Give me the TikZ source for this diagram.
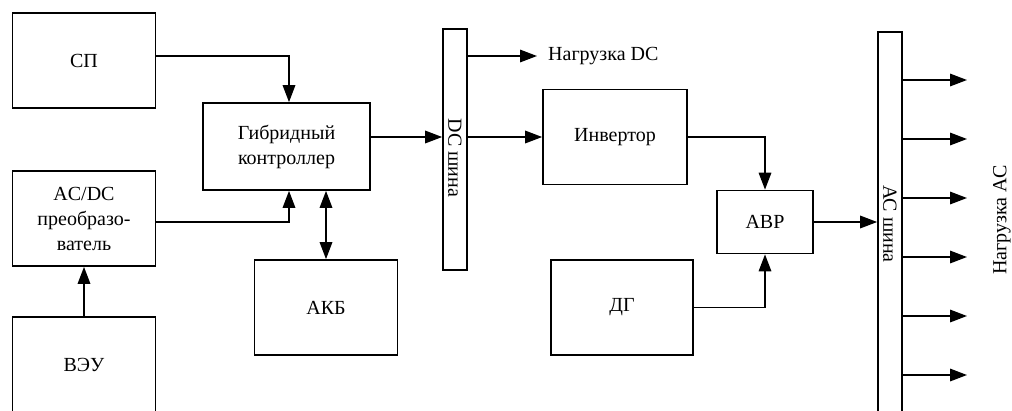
\documentclass[tikz,border=0pt]{standalone}
\usepackage{fontspec}
\setmainfont{Liberation Serif}
\usetikzlibrary{arrows.meta}

\tikzset{
  block/.style={draw, line width=1.7pt, inner sep=0pt, align=center},
  bus/.style={draw, line width=1.7pt, inner sep=0pt, minimum width=24pt},
  flow/.style={line width=1.7pt},
}

\begin{document}
\begin{tikzpicture}[x=1pt, y=-1pt, font=\fontsize{20}{25}\selectfont,
    >={Triangle[length=17pt,width=12.5pt]}]
  % Parameters
  \def\bw{143pt} % usual block width
  \def\bh{95pt}  % usual block height

  % Frame of the figure (bottom row is cut off)
  \useasboundingbox (0,0) rectangle (1012,410);
  \clip (0,0) rectangle (1012,410);

  % Sources
  \node[block, minimum width=\bw, minimum height=\bh] (sp)   at (84,60.5)  {СП};
  \node[block, minimum width=\bw, minimum height=\bh] (acdc) at (84,218.5) {AC/DC\\преобразо-\\ватель};
  \node[block, minimum width=\bw, minimum height=\bh] (veu)  at (84,364.5) {ВЭУ};

  % Controller and battery
  \node[block, minimum width=167pt, minimum height=87pt] (hyb) at (286.5,146.5) {Гибридный\\контроллер};
  \node[block, minimum width=\bw, minimum height=\bh] (akb) at (326,307.5) {АКБ};

  % DC bus
  \node[bus, minimum height=241pt] (dcbus) at (455,149.5) {};
  \node[rotate=-90] (dctxt) at (455,158) {DC шина};
  \node[anchor=west, inner sep=0pt] (loaddc) at (548,56) {Нагрузка DC};

  % Inverter, generator, transfer switch
  \node[block, minimum width=144pt, minimum height=\bh] (inv) at (615,137) {Инвертор};
  \node[block, minimum width=142pt, minimum height=\bh] (dg)  at (622,307.5) {ДГ};
  \node[block, minimum width=96pt, minimum height=63pt] (avr) at (765,222) {АВР};

  % AC bus
  \node[bus, minimum height=388pt] (acbus) at (890,226) {};
  \node[rotate=-90] (actxt) at (890,224) {АС шина};
  \node[rotate=90] (loadac) at (1002,220) {Нагрузка АС};

  % Connections
  \draw[flow,->] ([yshift=4.5pt]sp.east) -| ([xshift=2.5pt]hyb.north);
  \draw[flow,->] ([yshift=-3.5pt]acdc.east) -| ([xshift=2.5pt]hyb.south);
  \draw[flow,->] (veu.north) -- (acdc.south);
  \draw[flow,<->] (akb.north) -- (akb.north |- hyb.south);
  \draw[flow,->] (hyb.east |- inv) -- (dcbus.west |- inv);
  \draw[flow,->] (dcbus.east |- loaddc) -- ([xshift=-11pt]loaddc.west);
  \draw[flow,->] (dcbus.east |- inv) -- (inv.west);
  \draw[flow,->] (inv.east) -| (avr.north);
  \draw[flow,->] (dg.east) -| (avr.south);
  \draw[flow,->] (avr.east) -- (acbus.west |- avr);

  % AC loads
  \foreach \y [count=\i] in {80,139,...,375} {
    \coordinate (l\i) at (967,\y);
    \draw[flow,->] (acbus.east |- l\i) -- (l\i);
  }
\end{tikzpicture}
\end{document}
